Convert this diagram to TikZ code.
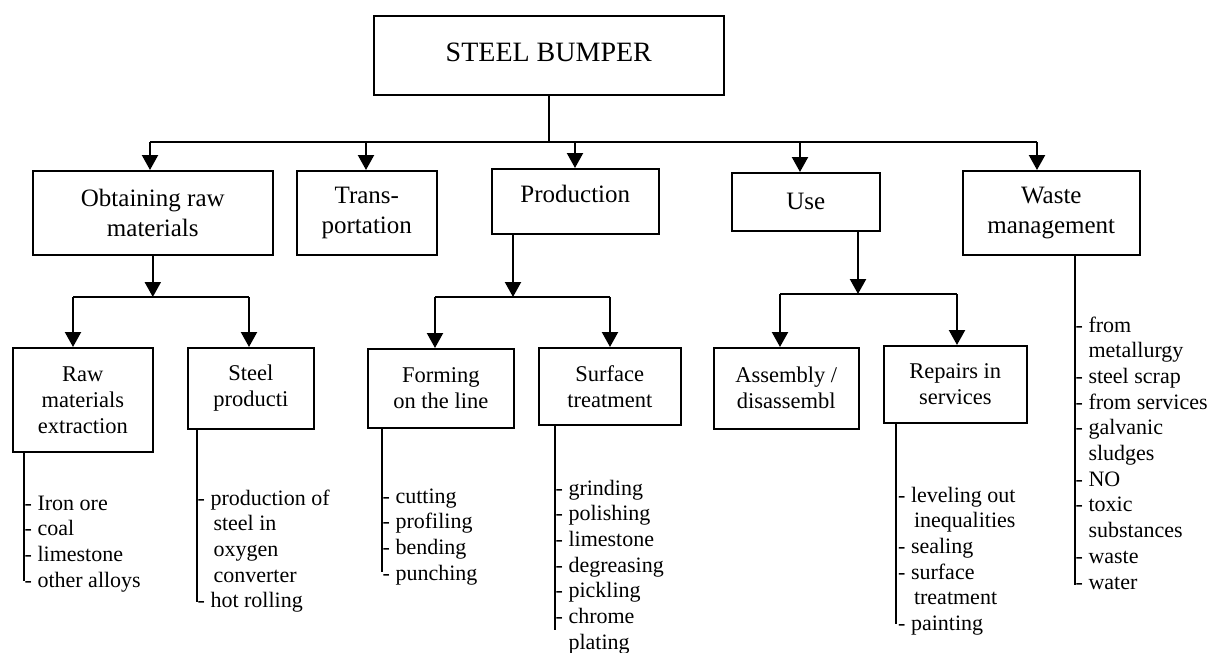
\documentclass[tikz,border=0pt]{standalone}
\usepackage{fontspec}
\setmainfont{Liberation Serif}
\usetikzlibrary{arrows.meta}

\newcommand{\ind}{\hphantom{- }\hspace{3pt}}

\begin{document}
\begin{tikzpicture}[x=1pt, y=-1pt,
  box/.style={draw, line width=1.6pt, inner sep=0pt, anchor=north west},
  ml/.style={align=center},
  topfont/.style={font=\fontsize{25}{30}\selectfont},
  lowfont/.style={font=\fontsize{22.5}{26}\selectfont},
  listtext/.style={inner sep=0pt, anchor=base west, font=\fontsize{22}{25.7}\selectfont},
  bus/.style={line width=2pt},
  stem/.style={line width=1.6pt},
  arr/.style={line width=2.2pt, -{Triangle[width=16pt,length=15pt]}},
]
\useasboundingbox (0,0) rectangle (1219,653);

% root
\node[box, minimum width=350pt, minimum height=79pt, text depth=7pt,
      font=\fontsize{28}{34}\selectfont] (root) at (373,15) {STEEL BUMPER};

% life-cycle stages
\node[box, ml, topfont, minimum width=240pt, minimum height=84pt] (obt) at (32,170) {Obtaining raw\\materials};
\node[box, ml, topfont, minimum width=140pt, minimum height=84pt] (trans) at (296,170) {Trans-\\portation};
\node[box, topfont, minimum width=167pt, minimum height=65pt, text depth=14pt] (prod) at (491,168) {Production};
\node[box, topfont, minimum width=148pt, minimum height=58pt] (use) at (731,172) {Use};
\node[box, ml, topfont, minimum width=177pt, minimum height=84pt] (waste) at (962,170) {Waste\\management};

% sub-stages
\node[box, ml, lowfont, minimum width=140pt, minimum height=104pt] (raw) at (12,347) {Raw\\materials\\extraction};
\node[box, ml, lowfont, minimum width=126pt, minimum height=81pt] (steel) at (187,347) {Steel\\producti};
\node[box, ml, lowfont, minimum width=146pt, minimum height=79pt] (form) at (367,348) {Forming\\on the line};
\node[box, ml, lowfont, minimum width=142pt, minimum height=77pt] (surf) at (538,347) {Surface\\treatment};
\node[box, ml, lowfont, minimum width=145pt, minimum height=81pt] (asm) at (713,347) {Assembly /\\disassembl};
\node[box, ml, lowfont, minimum width=143pt, minimum height=77pt] (rep) at (883,345) {Repairs in\\services};

% top distribution bus
\coordinate (busL) at (150,142);
\coordinate (busR) at (1037,142);
\coordinate (tT) at (366,142);
\coordinate (tP) at (575,142);
\coordinate (tU) at (800,142);
\draw[stem] (root.south) -- (root.south |- busL);
\draw[bus] (busL) -- (busR);
\draw[arr] (busL) -- (busL |- obt.north);
\draw[arr] (tT) -- (tT |- trans.north);
\draw[arr] (tP) -- (tP |- prod.north);
\draw[arr] (tU) -- (tU |- use.north);
\draw[arr] (busR) -- (busR |- waste.north);

% raw materials branch
\coordinate (oL) at (73,297);
\coordinate (oR) at (249,297);
\coordinate (oB) at (obt.south |- oL);
\draw[arr] (obt.south) -- (oB);
\draw[bus] (oL) -- (oR);
\draw[arr] (oL) -- (oL |- raw.north);
\draw[arr] (oR) -- (oR |- steel.north);

% production branch
\coordinate (pS) at (513,233);
\coordinate (pB) at (513,297);
\coordinate (pL) at (435,297);
\coordinate (pR) at (610,297);
\draw[arr] (pS) -- (pB);
\draw[bus] (pL) -- (pR);
\draw[arr] (pL) -- (pL |- form.north);
\draw[arr] (pR) -- (pR |- surf.north);

% use branch
\coordinate (uS) at (858,230);
\coordinate (uB) at (858,294);
\coordinate (uL) at (780,294);
\coordinate (uR) at (957,294);
\draw[arr] (uS) -- (uB);
\draw[bus] (uL) -- (uR);
\draw[arr] (uL) -- (uL |- asm.north);
\draw[arr] (uR) -- (uR |- rep.north);

% item lists
\coordinate (rawE) at (24,581);
\draw[stem] (raw.south -| rawE) -- (rawE);
\node[listtext] (rawL) at (24.5,510) {\begin{tabular}[t]{@{}l@{}}- Iron ore\\- coal\\- limestone\\- other alloys\end{tabular}};

\coordinate (steelE) at (197,602);
\draw[stem] (steel.south -| steelE) -- (steelE);
\node[listtext] (steelL) at (197.5,505) {\begin{tabular}[t]{@{}l@{}}- production of\\\ind steel in\\\ind oxygen\\\ind converter\\- hot rolling\end{tabular}};

\coordinate (formE) at (382,572);
\draw[stem] (form.south -| formE) -- (formE);
\node[listtext] (formL) at (382.5,503) {\begin{tabular}[t]{@{}l@{}}- cutting\\- profiling\\- bending\\- punching\end{tabular}};

\coordinate (surfE) at (555,630);
\draw[stem] (surf.south -| surfE) -- (surfE);
\node[listtext] (surfL) at (555.5,495) {\begin{tabular}[t]{@{}l@{}}- grinding\\- polishing\\- limestone\\- degreasing\\- pickling\\- chrome\\\hphantom{- }plating\end{tabular}};

\coordinate (repE) at (896,624);
\draw[stem] (rep.south -| repE) -- (repE);
\node[listtext] (repL) at (898,502) {\begin{tabular}[t]{@{}l@{}}- leveling out\\\ind inequalities\\- sealing\\- surface\\\ind treatment\\- painting\end{tabular}};

\coordinate (wasteE) at (1075,585);
\draw[stem] (waste.south -| wasteE) -- (wasteE);
\node[listtext] (wasteL) at (1075.5,332) {\begin{tabular}[t]{@{}l@{}}- from\\\hphantom{- }metallurgy\\- steel scrap\\- from services\\- galvanic\\\hphantom{- }sludges\\- NO\\- toxic\\\hphantom{- }substances\\- waste\\- water\end{tabular}};

\end{tikzpicture}
\end{document}
